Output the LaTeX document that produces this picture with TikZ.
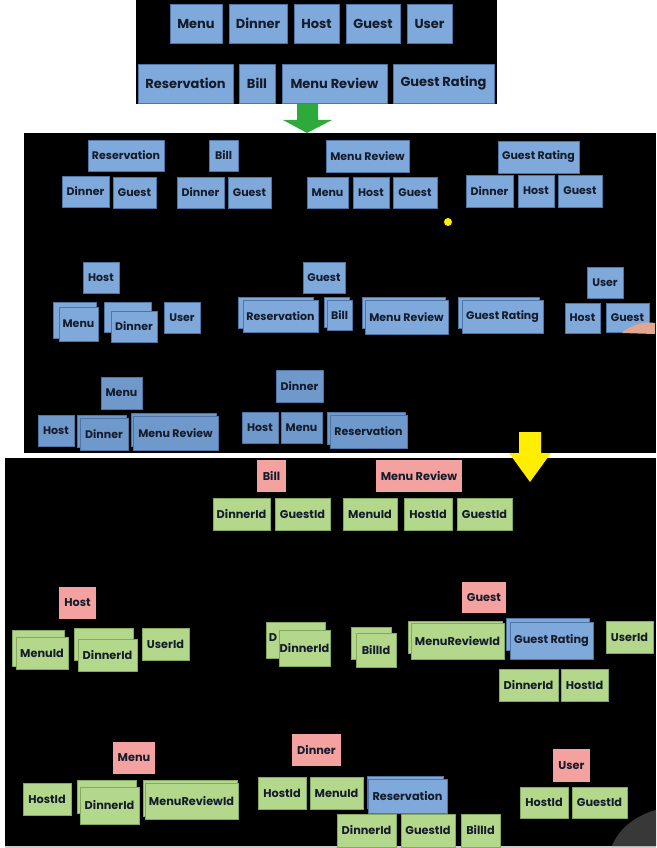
\documentclass[tikz,border=0pt]{standalone}
\usepackage{fontspec}
\setmainfont{Poppins}
\definecolor{bluefill}{HTML}{7FA9DA}
\definecolor{bluedark}{HTML}{6F98CB}
\definecolor{blueline}{HTML}{4F74A6}
\definecolor{pinkfill}{HTML}{F4A2A0}
\definecolor{greenfill}{HTML}{B4D88B}
\definecolor{greenline}{HTML}{86A860}
\definecolor{txtdark}{HTML}{141B2B}
\definecolor{arrowgreen}{HTML}{2EAA3C}
\definecolor{arrowyellow}{HTML}{FFEE00}
\definecolor{skin}{HTML}{E2A78E}
\newcommand\bx[7]{%
  \pgfmathsetmacro\bxW{#5-#3}\pgfmathsetmacro\bxH{#6-#4}%
  \node[inner sep=0pt, outer sep=0pt, text=txtdark, #2, minimum width=\bxW pt, minimum height=\bxH pt, anchor=north west] (#1) at (#3,#4) {#7};}
\tikzset{
  fT/.style={font=\bfseries\fontsize{13}{15}\selectfont},
  fM/.style={font=\bfseries\fontsize{11}{13}\selectfont},
  fB/.style={font=\bfseries\fontsize{11.3}{13}\selectfont},
  blu/.style={fill=bluefill, draw=blueline, line width=0.7pt},
  blud/.style={fill=bluedark, draw=blueline, line width=0.7pt},
  pnk/.style={fill=pinkfill},
  grn/.style={fill=greenfill, draw=greenline, line width=0.5pt},
  panel/.style={fill=black},
}
\begin{document}
\begin{tikzpicture}[x=1pt, y=-1pt]
\useasboundingbox (0,0) rectangle (656,848);
\fill[white] (0,0) rectangle (656,848);
% panels
\fill[panel] (136,0) rectangle (497,104);
\fill[panel] (24,133) rectangle (656,453);
\fill[panel] (5,458) rectangle (656,846);
\fill[black!20] (5,846) rectangle (656,848);
% top panel
\bx{t1}{blu,fT}{170}{4}{222}{43}{Menu}
\bx{t2}{blu,fT}{229}{4}{287}{43}{Dinner}
\bx{t3}{blu,fT}{294}{4}{339}{43}{Host}
\bx{t4}{blu,fT}{346}{4}{400}{43}{Guest}
\bx{t5}{blu,fT}{407}{4}{452}{43}{User}
\bx{t6}{blu,fT}{138}{64}{233}{103}{Reservation}
\bx{t7}{blu,fT}{239}{64}{275}{103}{Bill}
\bx{t8}{blu,fT}{282}{64}{387}{103}{Menu Review}
\bx{t9}{blu,fT}{393}{64}{494}{103}{Guest Rating}
% green arrow
\fill[arrowgreen] (297,104) -- (318,104) -- (318,120) -- (332,120) -- (307,133) -- (283,120) -- (297,120) -- cycle;
% middle panel, row 1
\bx{m1}{blu,fM}{88}{140}{164}{171}{Reservation}
\bx{m2}{blu,fM}{62}{176}{109}{207}{Dinner}
\bx{m3}{blu,fM}{113}{177}{156}{208}{Guest}
\bx{m4}{blu,fM}{209}{140}{238}{171}{Bill}
\bx{m5}{blu,fM}{177}{177}{224}{208}{Dinner}
\bx{m6}{blu,fM}{228}{177}{271}{208}{Guest}
\bx{m7}{blu,fM}{326}{140}{409}{172}{Menu Review}
\bx{m8}{blu,fM}{307}{177}{348}{208}{Menu}
\bx{m9}{blu,fM}{353}{177}{389}{208}{Host}
\bx{m10}{blu,fM}{393}{177}{437}{208}{Guest}
\bx{m11}{blu,fM}{498}{141}{579}{173}{Guest Rating}
\bx{m12}{blu,fM}{466}{175}{513}{207}{Dinner}
\bx{m13}{blu,fM}{518}{175}{554}{207}{Host}
\bx{m14}{blu,fM}{558}{175}{602}{207}{Guest}
\fill[arrowyellow] (448,222) circle (4);
% middle panel, row 2
\bx{m15}{blu,fM}{83}{262}{119}{293}{Host}
\bx{m16b}{blu,fM}{53}{302}{96}{338}{}
\bx{m16}{blu,fM}{59}{307}{98}{341}{Menu}
\bx{m17b}{blu,fM}{104}{302}{151}{332}{}
\bx{m17}{blu,fM}{111}{311}{157}{342}{Dinner}
\bx{m18}{blu,fM}{164}{302}{200}{333}{User}
\bx{m19}{blu,fM}{303}{262}{345}{293}{Guest}
\bx{m20b}{blu,fM}{238}{297}{313}{328}{}
\bx{m20}{blu,fM}{243}{300}{318}{332}{Reservation}
\bx{m21b}{blu,fM}{324}{297}{349}{327}{}
\bx{m21}{blu,fM}{327}{300}{352}{330}{Bill}
\bx{m22b}{blu,fM}{362}{297}{445}{328}{}
\bx{m22}{blu,fM}{365}{300}{448}{334}{Menu Review}
\bx{m23b}{blu,fM}{458}{297}{539}{328}{}
\bx{m23}{blu,fM}{462}{300}{543}{333}{Guest Rating}
\bx{m24}{blu,fM}{587}{267}{623}{298}{User}
\bx{m25}{blu,fM}{565}{303}{600}{333}{Host}
\bx{m26}{blu,fM}{606}{303}{649}{332}{Guest}
\fill[skin] (622,333) .. controls (630,325) and (645,321) .. (655,323) -- (655,334) -- cycle;
% middle panel, row 3
\bx{m27}{blud,fM}{101}{377}{142}{409}{Menu}
\bx{m28}{blud,fM}{38}{415}{74}{446}{Host}
\bx{m29b}{blud,fM}{77}{415}{126}{447}{}
\bx{m29}{blud,fM}{80}{418}{128}{450}{Dinner}
\bx{m30b}{blud,fM}{131}{413}{216}{446}{}
\bx{m30}{blud,fM}{133}{416}{218}{450}{Menu Review}
\bx{m31}{blud,fM}{276}{370}{323}{402}{Dinner}
\bx{m32}{blud,fM}{242}{412}{278}{443}{Host}
\bx{m33}{blud,fM}{281}{412}{322}{443}{Menu}
\bx{m34b}{blud,fM}{327}{412}{405}{444}{}
\bx{m34}{blud,fM}{330}{415}{407}{448}{Reservation}
% yellow arrow
\fill[arrowyellow] (519,432) -- (541,432) -- (541,453) -- (551,453) -- (530,482) -- (509,453) -- (519,453) -- cycle;
% bottom panel, top group
\bx{b1}{pnk,fB}{257}{460}{286}{492}{Bill}
\bx{b2}{pnk,fB}{376}{460}{462}{492}{Menu Review}
\bx{b3}{grn,fB}{213}{498}{270}{530}{DinnerId}
\bx{b4}{grn,fB}{275}{498}{330}{530}{GuestId}
\bx{b5}{grn,fB}{343}{498}{397}{530}{MenuId}
\bx{b6}{grn,fB}{404}{498}{452}{530}{HostId}
\bx{b7}{grn,fB}{457}{498}{512}{530}{GuestId}
% bottom panel, middle group
\bx{b8}{pnk,fB}{59}{587}{96}{619}{Host}
\bx{b9b}{grn,fB}{12}{630}{64}{666}{}
\bx{b9}{grn,fB}{16}{637}{68}{669}{MenuId}
\bx{b10b}{grn,fB}{74}{628}{133}{660}{}
\bx{b10}{grn,fB}{78}{639}{137}{671}{DinnerId}
\bx{b11}{grn,fB}{142}{628}{189}{660}{UserId}
\bx{b12b}{grn,fB}{266}{622}{325}{658}{}
\node[inner sep=0pt, text=txtdark, fB] (b12d) at (273,638) {D};
\bx{b12}{grn,fB}{279}{630}{330}{666}{DinnerId}
\bx{b13b}{grn,fB}{351}{627}{391}{659}{}
\bx{b13}{grn,fB}{356}{633}{396}{667}{BillId}
\bx{b19}{pnk,fB}{462}{582}{506}{613}{Guest}
\bx{b14b}{grn,fB}{408}{621}{502}{653}{}
\bx{b14}{grn,fB}{411}{623}{504}{659}{MenuReviewId}
\bx{b15b}{blu,fB}{506}{618}{589}{650}{}
\bx{b15}{blu,fB}{510}{622}{593}{659}{Guest Rating}
\bx{b16}{grn,fB}{606}{621}{653}{653}{UserId}
\bx{b17}{grn,fB}{499}{669}{558}{701}{DinnerId}
\bx{b18}{grn,fB}{561}{669}{608}{701}{HostId}
% bottom panel, bottom group
\bx{b20}{pnk,fB}{113}{742}{155}{774}{Menu}
\bx{b21}{grn,fB}{23}{783}{71}{815}{HostId}
\bx{b22b}{grn,fB}{77}{780}{136}{813}{}
\bx{b22}{grn,fB}{80}{787}{139}{824}{DinnerId}
\bx{b23b}{grn,fB}{143}{780}{237}{816}{}
\bx{b23}{grn,fB}{145}{783}{238}{819}{MenuReviewId}
\bx{b24}{pnk,fB}{292}{734}{341}{766}{Dinner}
\bx{b25}{grn,fB}{258}{777}{306}{809}{HostId}
\bx{b26}{grn,fB}{310}{777}{363}{809}{MenuId}
\bx{b27b}{blu,fB}{367}{776}{443}{808}{}
\bx{b27}{blu,fB}{368}{779}{447}{813}{Reservation}
\bx{b28}{grn,fB}{337}{814}{396}{847}{DinnerId}
\bx{b29}{grn,fB}{401}{814}{455}{847}{GuestId}
\bx{b30}{grn,fB}{461}{814}{500}{847}{BillId}
\bx{b31}{pnk,fB}{553}{749}{590}{782}{User}
\bx{b32}{grn,fB}{520}{787}{568}{818}{HostId}
\bx{b33}{grn,fB}{572}{787}{627}{818}{GuestId}
\fill[black!78] (656,810) .. controls (634,816) and (618,830) .. (612,846) -- (656,846) -- cycle;
\end{tikzpicture}
\end{document}
